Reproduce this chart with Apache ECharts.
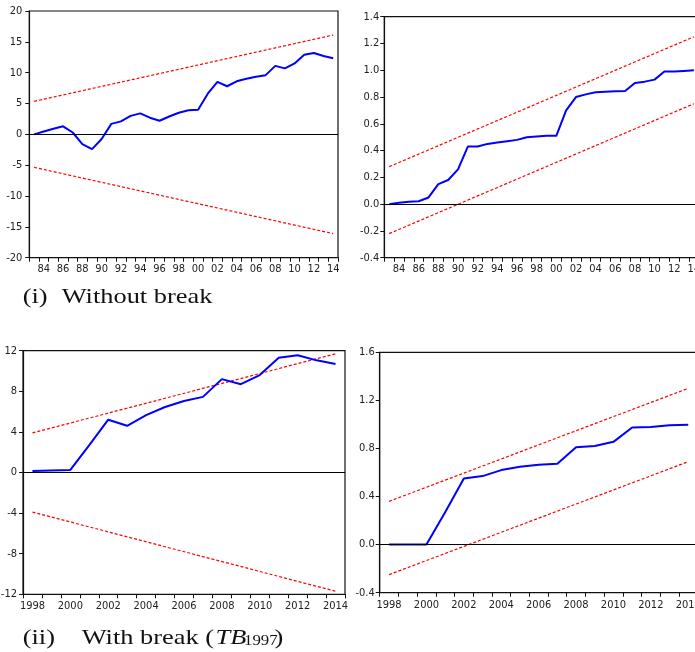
<!DOCTYPE html>
<html>
<head>
<meta charset="utf-8">
<script src="https://cdn.jsdelivr.net/npm/echarts@6/dist/echarts.min.js"></script>
<style>
html,body{margin:0;padding:0;background:#fff;}
#main{width:695px;height:652px;}
</style>
</head>
<body>
<div id="main"></div>
<script>
// ---------- data ----------
var yearsA = [1983,1984,1985,1986,1987,1988,1989,1990,1991,1992,1993,1994,1995,1996,1997,1998,1999,2000,2001,2002,2003,2004,2005,2006,2007,2008,2009,2010,2011,2012,2013,2014];
var yearsB = [1998,1999,2000,2001,2002,2003,2004,2005,2006,2007,2008,2009,2010,2011,2012,2013,2014];

// (i) without break: CUSUM
var cusumA = [0,0.45,0.9,1.3,0.3,-1.6,-2.4,-0.75,1.7,2.1,3.0,3.4,2.7,2.2,2.9,3.5,3.9,4.0,6.6,8.5,7.8,8.6,9.0,9.35,9.6,11.1,10.7,11.5,12.9,13.2,12.7,12.35];
var cusumAUpper = [5.35, 16.1];   // at first / last year
var cusumALower = [-5.35, -16.1];

// (i) without break: CUSUM of squares
var cusumsqA = [0,0.01,0.018,0.022,0.05,0.15,0.18,0.26,0.43,0.43,0.45,0.46,0.47,0.48,0.50,0.505,0.51,0.51,0.70,0.80,0.82,0.835,0.84,0.843,0.845,0.905,0.915,0.93,0.99,0.99,0.995,1.0];
var cusumsqAUpper = [0.28, 1.25];
var cusumsqALower = [-0.22, 0.75];

// (ii) with break: CUSUM
var cusumB = [0.15,0.2,0.25,2.7,5.2,4.6,5.65,6.45,7.05,7.45,9.2,8.7,9.6,11.3,11.55,11.05,10.7];
var cusumBUpper = [3.9, 11.7];
var cusumBLower = [-3.9, -11.7];

// (ii) with break: CUSUM of squares
var cusumsqB = [0,0,0,0.27,0.55,0.57,0.62,0.647,0.664,0.672,0.81,0.82,0.855,0.975,0.978,0.994,0.997];
var cusumsqBUpper = [0.36, 1.30];
var cusumsqBLower = [-0.25, 0.69];

var yTicksA1 = {min:-20, max:20, interval:5};
var yTicksA2 = {min:-0.4, max:1.4, interval:0.2};
var yTicksB1 = {min:-12, max:12, interval:4};
var yTicksB2 = {min:-0.4, max:1.6, interval:0.4};

var captionA = ['(i)', 'Without break'];
var captionB = ['(ii)', 'With break (', 'TB', '1997', ')'];

// ---------- chart ----------
var FONT = '"Liberation Sans Narrow", "DejaVu Sans Condensed", "Arial Narrow", sans-serif';
var SERIF = '"Liberation Serif", "Times New Roman", serif';
var grids = [
  {left:29.3, top:11, width:308.7, height:246.7},
  {left:384.3, top:16.7, width:314.5, height:241},
  {left:23, top:350.7, width:322, height:243.6},
  {left:379.7, top:352.3, width:317.9, height:240.4}
];
grids.forEach(function(g){ g.show = true; g.borderColor = '#111'; g.borderWidth = 1.2; g.backgroundColor = 'transparent'; g.outerBoundsMode = 'none'; g.containLabel = false; });

function xAx(i, cats, shortLbl, margin){
  return {
    type:'category', gridIndex:i, data:cats.map(String), boundaryGap:true,
    axisLine:{show:true, onZero:false, lineStyle:{color:'#111', width:1.2}},
    axisTick:{show:true, interval:0, alignWithLabel:false, inside:false, length:4, lineStyle:{color:'#111'}},
    axisLabel:{
      interval:function(idx, v){ return Number(v) % 2 === 0; },
      formatter:function(v){ return shortLbl ? String(v).slice(2) : String(v); },
      fontFamily:FONT, fontSize:11, color:'#222', margin:margin, hideOverlap:false
    },
    splitLine:{show:false}
  };
}
function yAx(i, t, dec, margin){
  return {
    type:'value', gridIndex:i, min:t.min, max:t.max, interval:t.interval,
    axisLine:{show:true, lineStyle:{color:'#111', width:1.2}},
    axisTick:{show:true, inside:false, length:4, lineStyle:{color:'#111'}},
    axisLabel:{
      formatter:function(v){ return dec ? v.toFixed(dec) : String(Math.round(v)); },
      fontFamily:FONT, fontSize:11, color:'#222', margin:margin
    },
    splitLine:{show:false}
  };
}
function blue(i, vals){
  return {
    type:'line', xAxisIndex:i, yAxisIndex:i, data:vals, symbol:'none', silent:true,
    lineStyle:{color:'#0000ff', width:2}, z:3,
    markLine:{symbol:['none','none'], silent:true, animation:false, label:{show:false},
      lineStyle:{color:'#000', width:1, type:'solid'}, data:[{yAxis:0}]}
  };
}
function red(i, cats, ends){
  return {
    type:'line', xAxisIndex:i, yAxisIndex:i, symbol:'none', silent:true,
    data:[[String(cats[0]), ends[0]], [String(cats[cats.length-1]), ends[1]]],
    lineStyle:{color:'#ff0000', width:1.2, type:[3,2]}, z:2
  };
}

var CAP = 22, SUB = 14, SX = 1.2, X0 = 22.7;
function capText(x, y, txt, size, italic){
  return {type:'text', x:(x - X0) / SX, y:y, silent:true,
    style:{text:txt, fontFamily:SERIF, fontSize:size, fontStyle:italic ? 'italic' : 'normal',
      fill:'#111', align:'left', verticalAlign:'middle'}};
}

var option = {
  animation:false,
  grid:grids,
  xAxis:[xAx(0, yearsA, true, 6), xAx(1, yearsA, true, 6), xAx(2, yearsB, false, 6), xAx(3, yearsB, false, 7)],
  yAxis:[yAx(0, yTicksA1, 0, 7), yAx(1, yTicksA2, 1, 5), yAx(2, yTicksB1, 0, 6), yAx(3, yTicksB2, 1, 5)],
  series:[
    blue(0, cusumA), red(0, yearsA, cusumAUpper), red(0, yearsA, cusumALower),
    blue(1, cusumsqA), red(1, yearsA, cusumsqAUpper), red(1, yearsA, cusumsqALower),
    blue(2, cusumB), red(2, yearsB, cusumBUpper), red(2, yearsB, cusumBLower),
    blue(3, cusumsqB), red(3, yearsB, cusumsqBUpper), red(3, yearsB, cusumsqBLower)
  ],
  graphic:[
    {type:'group', x:X0, y:297.5, scaleX:SX, scaleY:1, silent:true, children:[
      capText(22.7, 0, captionA[0], CAP, false),
      capText(61.7, 0, captionA[1], CAP, false)
    ]},
    {type:'group', x:X0, y:638.5, scaleX:SX, scaleY:1, silent:true, children:[
      capText(22.7, 0, captionB[0], CAP, false),
      capText(81.7, 0, captionB[1], CAP, false),
      capText(215.5, 0, captionB[2], CAP, true),
      capText(244, 3, captionB[3], SUB, false),
      capText(274.5, 0, captionB[4], CAP, false)
    ]}
  ]
};
var chart = echarts.init(document.getElementById('main'), null, {renderer:'canvas'});
chart.setOption(option);
</script>
</body>
</html>
